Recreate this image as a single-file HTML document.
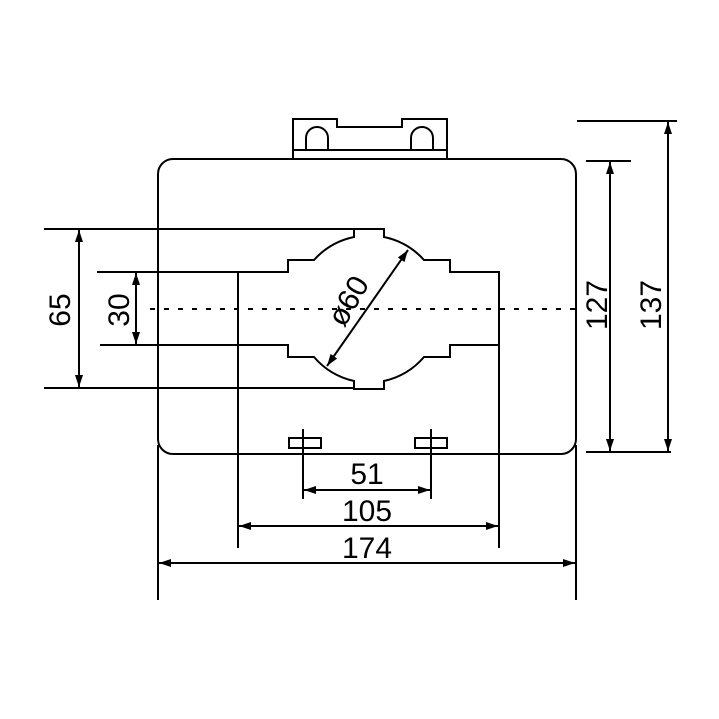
<!DOCTYPE html>
<html><head><style>
html,body{margin:0;padding:0;background:#fff;}
svg{display:block;}
text{font-family:"Liberation Sans",Arial,sans-serif;font-size:30px;fill:#000;}
</style></head><body>
<svg width="719" height="719" viewBox="0 0 719 719" xmlns="http://www.w3.org/2000/svg">
<defs>
<marker id="a" viewBox="0 0 12 8" refX="12" refY="4" markerWidth="12" markerHeight="8" markerUnits="userSpaceOnUse" orient="auto-start-reverse">
<path d="M0,0 L12,4 L0,8 Z" fill="#000"/>
</marker>
</defs>
<g stroke="#000" stroke-width="2" fill="none">
<rect x="158" y="159" width="418" height="295" rx="15" ry="15"/>
<path d="M293,159 V119 H337 V127 H402 V119 H447 V159"/>
<line x1="293" y1="150" x2="447" y2="150"/>
<path d="M306,150 V138 A11,11 0 0 1 328,138 V150"/>
<path d="M411,150 V138 A11,11 0 0 1 433,138 V150"/>
<path d="M238,272 H288 V260 H314 A74,74 0 0 1 354,237 V229 H384 V237 A74,74 0 0 1 424,260 H450 V272 H499 V345 H450 V357 H424 A74,74 0 0 1 384,381 V389 H354 V381 A74,74 0 0 1 314,357 H288 V345 H238 Z"/>
<rect x="289" y="438" width="32" height="10"/>
<rect x="415" y="438" width="32" height="10"/>
<line x1="158" y1="445" x2="158" y2="600"/>
<line x1="576" y1="445" x2="576" y2="600"/>
<line x1="238" y1="345" x2="238" y2="548"/>
<line x1="499" y1="345" x2="499" y2="548"/>
<line x1="303" y1="429" x2="303" y2="499"/>
<line x1="431" y1="429" x2="431" y2="499"/>
<line x1="44" y1="229" x2="383" y2="229"/>
<line x1="44" y1="388" x2="354" y2="388"/>
<line x1="97" y1="272" x2="238" y2="272"/>
<line x1="100" y1="345" x2="238" y2="345"/>
<line x1="577" y1="121" x2="677" y2="121"/>
<line x1="586" y1="161" x2="631" y2="161"/>
<line x1="586" y1="452" x2="671" y2="452"/>
</g>
<line x1="150" y1="309" x2="580" y2="309" stroke="#000" stroke-width="2" stroke-dasharray="5,9"/>
<g stroke="#000" stroke-width="2" marker-start="url(#a)" marker-end="url(#a)">
<line x1="79" y1="230" x2="79" y2="387"/>
<line x1="136" y1="273" x2="136" y2="344"/>
<line x1="610" y1="162" x2="610" y2="451"/>
<line x1="668" y1="122" x2="668" y2="451"/>
<line x1="304" y1="490" x2="430" y2="490"/>
<line x1="239" y1="526" x2="498" y2="526"/>
<line x1="159" y1="563" x2="575" y2="563"/>
<line x1="327" y1="366" x2="408" y2="250"/>
</g>
<text x="367" y="484" text-anchor="middle">51</text>
<text x="367" y="521" text-anchor="middle">105</text>
<text x="367" y="558" text-anchor="middle">174</text>
<text transform="translate(70,310) rotate(-90)" text-anchor="middle">65</text>
<text transform="translate(129,310) rotate(-90)" text-anchor="middle">30</text>
<text transform="translate(607,305) rotate(-90)" text-anchor="middle">127</text>
<text transform="translate(661,305) rotate(-90)" text-anchor="middle">137</text>
<text transform="translate(357,306) rotate(-60)" text-anchor="middle">ø60</text>
</svg>
</body></html>
